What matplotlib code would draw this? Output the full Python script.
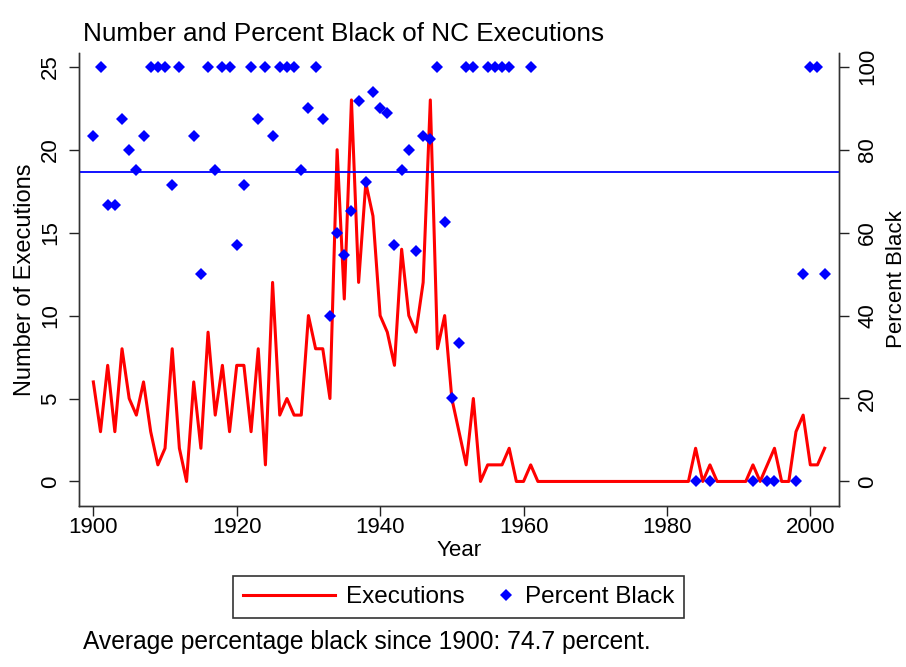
import matplotlib
matplotlib.use('Agg')
import matplotlib.pyplot as plt
import numpy as np
from matplotlib.legend_handler import HandlerLine2D

plt.rcParams['font.family'] = ['Liberation Sans', 'DejaVu Sans']

# Yearly NC executions and percent black
years = np.arange(1900, 2003)
executions = [
    6, 3, 7, 3, 8, 5, 4, 6, 3, 1,          # 1900s
    2, 8, 2, 0, 6, 2, 9, 4, 7, 3,          # 1910s
    7, 7, 3, 8, 1, 12, 4, 5, 4, 4,         # 1920s
    10, 8, 8, 5, 20, 11, 23, 12, 18, 16,   # 1930s
    10, 9, 7, 14, 10, 9, 12, 23, 8, 10,    # 1940s
    5, 3, 1, 5, 0, 1, 1, 1, 2, 0,          # 1950s
    0, 1, 0, 0, 0, 0, 0, 0, 0, 0,          # 1960s
    0, 0, 0, 0, 0, 0, 0, 0, 0, 0,          # 1970s
    0, 0, 0, 0, 2, 0, 1, 0, 0, 0,          # 1980s
    0, 0, 1, 0, 1, 2, 0, 0, 3, 4,          # 1990s
    1, 1, 2,                               # 2000s
]
nan = np.nan
percent_black = [
    83.3, 100, 66.7, 66.7, 87.5, 80, 75, 83.3, 100, 100,
    100, 71.4, 100, nan, 83.3, 50, 100, 75, 100, 100,
    57.1, 71.4, 100, 87.5, 100, 83.3, 100, 100, 100, 75,
    90, 100, 87.5, 40, 60, 54.5, 65.2, 91.7, 72.2, 93.8,
    90, 88.9, 57.1, 75, 80, 55.6, 83.3, 82.6, 100, 62.5,
    20, 33.3, 100, 100, nan, 100, 100, 100, 100, nan,
    nan, 100, nan, nan, nan, nan, nan, nan, nan, nan,
    nan, nan, nan, nan, nan, nan, nan, nan, nan, nan,
    nan, nan, nan, nan, 0, nan, 0, nan, nan, nan,
    nan, nan, 0, nan, 0, 0, nan, nan, 0, 50,
    100, 100, 50,
]
avg_black = 74.7


# legend handler that puts the diamond near the right end of its handle box
# (mpl puts a single marker in the middle of xdata, so shrink xdata around it)
class RightMarkerHandler(HandlerLine2D):
    def get_xdata(self, legend, xdescent, ydescent, width, height, fontsize):
        xm = -xdescent + width - 0.3 * fontsize
        return [xm - 1, xm + 1], [xm]


fig = plt.figure(figsize=(9.06, 6.67), dpi=100)
W, H = 906, 667
ax = fig.add_axes([79 / W, 1 - 506 / H, 760 / W, 453 / H])

line_exec, = ax.plot(years, executions, color='red', lw=2.2, label='Executions')
ax.set_xlim(1898, 2004)
ax.set_ylim(-1.48, 25.83)
ax.set_xticks(range(1900, 2001, 20))
ax.set_yticks(range(0, 26, 5))
ax.set_xlabel('Year', fontsize=16, labelpad=1)
ax.set_ylabel('Number of Executions', fontsize=17)
ax.yaxis.set_label_coords(-0.056, 0.5)

ax2 = ax.twinx()
ax2.set_ylim(-5.92, 103.3)
pts, = ax2.plot(years, percent_black, ls='none', marker='D', color='blue',
                ms=5.8, mew=0, label='Percent Black')
ax2.axhline(avg_black, color='blue', lw=1.3)
ax2.set_yticks(range(0, 101, 20))
ax2.set_ylabel('Percent Black', fontsize=16)
ax2.yaxis.set_label_coords(1.062, 0.5)

for a in (ax, ax2):
    a.tick_params(length=7, width=1, labelsize=16, color='#222222')
    for s in a.spines.values():
        s.set_color('#333333')
        s.set_linewidth(1)
    a.spines['top'].set_visible(False)
ax.tick_params(axis='x', pad=1)
ax.tick_params(axis='y', labelrotation=90, pad=6)
ax2.tick_params(axis='y', labelrotation=90, pad=6)
plt.setp(ax.get_yticklabels(), va='center')
plt.setp(ax2.get_yticklabels(), va='center')

fig.text(83 / W, 1 - 41 / H, 'Number and Percent Black of NC Executions',
         fontsize=18.8, ha='left', va='baseline')

fs = 17.5
em = fs * 100 / 72
leg = fig.legend(handles=[line_exec, pts], loc='center', ncol=2,
                 bbox_to_anchor=(458.5 / W, 1 - 597 / H), fontsize=fs,
                 frameon=True, fancybox=False, edgecolor='black',
                 handlelength=92 / em, handletextpad=12 / em,
                 columnspacing=-44 / em, borderpad=0.4, numpoints=1,
                 handler_map={pts: RightMarkerHandler(numpoints=1)})
leg.get_frame().set_linewidth(1.2)

fig.text(83 / W, 1 - 649 / H, 'Average percentage black since 1900: 74.7 percent.',
         fontsize=17.7, ha='left', va='baseline')

fig.savefig('out.png', dpi=100)
